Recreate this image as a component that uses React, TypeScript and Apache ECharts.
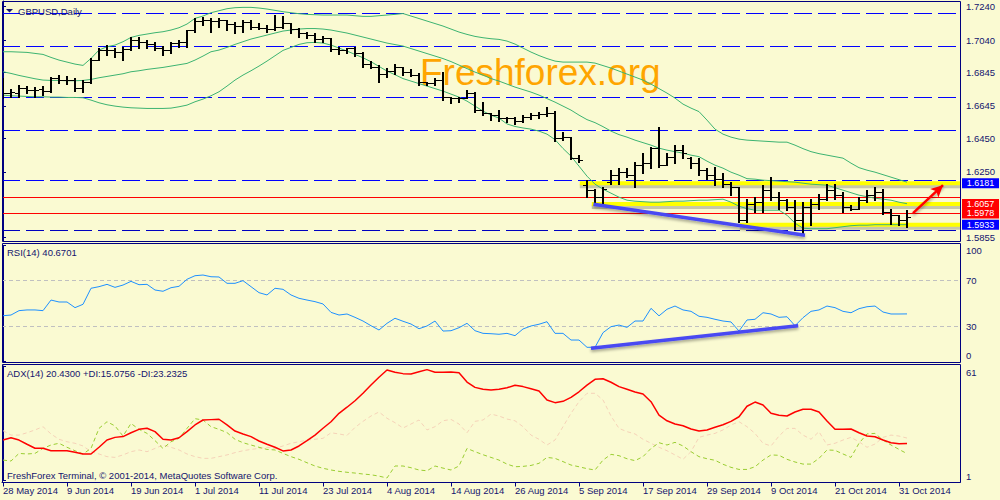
import React, { useEffect, useRef } from 'react';
import * as echarts from 'echarts';

// ---------- data ----------
const tickIdx = [0, 8, 16, 24, 32, 40, 48, 56, 64, 72, 80, 88, 96, 104, 112];
const tickLabels = ['28 May 2014', '9 Jun 2014', '19 Jun 2014', '1 Jul 2014', '11 Jul 2014', '23 Jul 2014', '4 Aug 2014', '14 Aug 2014', '26 Aug 2014', '5 Sep 2014', '17 Sep 2014', '29 Sep 2014', '9 Oct 2014', '21 Oct 2014', '31 Oct 2014'];
const priceTicks = [1.5855, 1.6250, 1.6450, 1.6645, 1.6845, 1.7040, 1.7240];
const rsiTicks = [0, 30, 70, 100];
const adxTicks = [1, 61];

const open = [1.6728,1.6725,1.6722,1.6752,1.6740,1.6746,1.6734,1.6812,1.6800,1.6798,
1.6752,1.6788,1.6920,1.6980,1.6978,1.6968,1.6986,1.7040,1.7028,1.7016,
1.6992,1.6980,1.7022,1.7028,1.7100,1.7154,1.7160,1.7154,1.7160,1.7136,
1.7124,1.7148,1.7120,1.7110,1.7105,1.7120,1.7140,1.7105,1.7085,1.7070,
1.7045,1.7050,1.6985,1.6980,1.6990,1.6960,1.6895,1.6880,1.6835,1.6855,
1.6880,1.6850,1.6830,1.6790,1.6780,1.6800,1.6700,1.6690,1.6690,1.6720,
1.6620,1.6600,1.6590,1.6570,1.6570,1.6555,1.6580,1.6590,1.6595,1.6600,
1.6450,1.6460,1.6330,1.6170,1.6140,1.6100,1.6190,1.6230,1.6250,1.6230,
1.6290,1.6300,1.6390,1.6290,1.6340,1.6380,1.6335,1.6300,1.6260,1.6230,
1.6210,1.6180,1.6160,1.5960,1.6060,1.6070,1.6140,1.6100,1.6080,1.6040,
1.5960,1.6040,1.6060,1.6090,1.6140,1.6110,1.6040,1.6030,1.6080,1.6110,
1.6130,1.6010,1.5990,1.5960];
const high = [1.6812,1.6746,1.6770,1.6764,1.6758,1.6764,1.6818,1.6830,1.6824,1.6812,
1.6800,1.6932,1.6992,1.7010,1.6992,1.6998,1.7058,1.7058,1.7040,1.7028,
1.7004,1.7028,1.7040,1.7100,1.7172,1.7178,1.7172,1.7172,1.7160,1.7148,
1.7160,1.7160,1.7140,1.7130,1.7190,1.7185,1.7145,1.7110,1.7090,1.7080,
1.7065,1.7055,1.7000,1.6995,1.7000,1.6970,1.6915,1.6890,1.6875,1.6895,
1.6880,1.6866,1.6842,1.6790,1.6812,1.6850,1.6700,1.6700,1.6740,1.6730,
1.6670,1.6602,1.6620,1.6580,1.6580,1.6590,1.6600,1.6610,1.6640,1.6615,
1.6490,1.6460,1.6350,1.6200,1.6150,1.6160,1.6260,1.6270,1.6270,1.6310,
1.6360,1.6400,1.6520,1.6360,1.6410,1.6410,1.6340,1.6330,1.6270,1.6280,
1.6240,1.6190,1.6160,1.6090,1.6100,1.6170,1.6220,1.6130,1.6090,1.6080,
1.6070,1.6090,1.6120,1.6180,1.6180,1.6130,1.6050,1.6100,1.6140,1.6160,
1.6150,1.6030,1.5990,1.6020];
const low = [1.6692,1.6698,1.6698,1.6722,1.6698,1.6710,1.6728,1.6782,1.6776,1.6734,
1.6728,1.6782,1.6920,1.6950,1.6938,1.6920,1.6980,1.6992,1.6992,1.6980,
1.6950,1.6962,1.6998,1.6998,1.7088,1.7130,1.7088,1.7118,1.7100,1.7082,
1.7088,1.7105,1.7105,1.7090,1.7100,1.7110,1.7080,1.7060,1.7050,1.7030,
1.7030,1.6975,1.6955,1.6960,1.6945,1.6880,1.6870,1.6790,1.6820,1.6835,
1.6830,1.6824,1.6770,1.6770,1.6770,1.6680,1.6662,1.6670,1.6690,1.6610,
1.6590,1.6560,1.6556,1.6550,1.6535,1.6550,1.6565,1.6570,1.6585,1.6435,
1.6440,1.6324,1.6310,1.6100,1.6060,1.6050,1.6180,1.6180,1.6220,1.6160,
1.6240,1.6270,1.6280,1.6290,1.6300,1.6330,1.6270,1.6230,1.6210,1.6170,
1.6160,1.6110,1.5950,1.5950,1.6010,1.6010,1.6080,1.6030,1.6020,1.5900,
1.5870,1.5930,1.6030,1.6080,1.6090,1.6010,1.6020,1.6030,1.6070,1.6080,
1.6000,1.5940,1.5930,1.5920];
const close = [1.6722,1.6730,1.6752,1.6740,1.6738,1.6734,1.6812,1.6800,1.6798,1.6752,
1.6788,1.6920,1.6980,1.6978,1.6968,1.6986,1.7040,1.7028,1.7016,1.6992,
1.6980,1.7022,1.7028,1.7100,1.7154,1.7160,1.7154,1.7160,1.7136,1.7124,
1.7148,1.7120,1.7110,1.7105,1.7120,1.7140,1.7105,1.7085,1.7070,1.7045,
1.7050,1.6985,1.6980,1.6990,1.6960,1.6895,1.6880,1.6835,1.6855,1.6880,
1.6850,1.6830,1.6790,1.6780,1.6800,1.6700,1.6690,1.6690,1.6720,1.6620,
1.6600,1.6590,1.6570,1.6570,1.6555,1.6580,1.6590,1.6595,1.6600,1.6450,
1.6460,1.6330,1.6320,1.6140,1.6100,1.6150,1.6230,1.6250,1.6230,1.6290,
1.6300,1.6390,1.6290,1.6340,1.6380,1.6360,1.6300,1.6260,1.6230,1.6210,
1.6180,1.6160,1.5960,1.6060,1.6070,1.6140,1.6100,1.6080,1.6040,1.5960,
1.6040,1.6060,1.6090,1.6140,1.6110,1.6040,1.6030,1.6080,1.6110,1.6130,
1.6010,1.5990,1.5960,1.5978];

const bbUpper = [1.6970,1.6970,1.6968,1.6966,1.6960,1.6954,1.6936,1.6920,1.6908,1.6896,
1.6888,1.6930,1.6980,1.7000,1.7010,1.7030,1.7056,1.7068,1.7076,1.7084,
1.7090,1.7100,1.7114,1.7136,1.7170,1.7184,1.7204,1.7216,1.7228,1.7234,
1.7236,1.7236,1.7232,1.7226,1.7218,1.7210,1.7204,1.7198,1.7194,1.7192,
1.7190,1.7190,1.7190,1.7190,1.7186,1.7182,1.7182,1.7186,1.7190,1.7194,
1.7199,1.7184,1.7169,1.7154,1.7139,1.7124,1.7106,1.7088,1.7074,1.7062,
1.7054,1.7048,1.7044,1.7034,1.7016,1.6992,1.6968,1.6947,1.6929,1.6914,
1.6908,1.6908,1.6908,1.6908,1.6902,1.6887,1.6872,1.6854,1.6836,1.6818,
1.6800,1.6776,1.6749,1.6722,1.6692,1.6656,1.6632,1.6611,1.6560,1.6506,
1.6476,1.6458,1.6446,1.6440,1.6437,1.6434,1.6431,1.6428,1.6428,1.6410,
1.6389,1.6371,1.6359,1.6350,1.6341,1.6332,1.6302,1.6275,1.6260,1.6248,
1.6233,1.6218,1.6203,1.6188];
const bbMiddle = [1.6850,1.6840,1.6828,1.6818,1.6808,1.6800,1.6798,1.6798,1.6796,1.6796,
1.6798,1.6804,1.6814,1.6822,1.6830,1.6838,1.6850,1.6856,1.6864,1.6870,
1.6876,1.6884,1.6892,1.6900,1.6920,1.6944,1.6970,1.6980,1.6996,1.7014,
1.7030,1.7046,1.7058,1.7070,1.7082,1.7094,1.7100,1.7106,1.7109,1.7109,
1.7106,1.7100,1.7091,1.7082,1.7070,1.7058,1.7046,1.7034,1.7022,1.7013,
1.7004,1.6989,1.6974,1.6959,1.6944,1.6929,1.6911,1.6890,1.6869,1.6848,
1.6830,1.6809,1.6794,1.6776,1.6758,1.6743,1.6728,1.6710,1.6689,1.6668,
1.6644,1.6620,1.6590,1.6563,1.6545,1.6521,1.6494,1.6473,1.6458,1.6440,
1.6425,1.6410,1.6392,1.6380,1.6371,1.6362,1.6350,1.6341,1.6314,1.6290,
1.6272,1.6248,1.6230,1.6209,1.6206,1.6200,1.6197,1.6194,1.6191,1.6188,
1.6182,1.6176,1.6173,1.6170,1.6155,1.6140,1.6125,1.6110,1.6101,1.6092,
1.6086,1.6080,1.6068,1.6059];
const bbLower = [1.6710,1.6706,1.6704,1.6702,1.6700,1.6700,1.6698,1.6698,1.6696,1.6696,
1.6694,1.6680,1.6664,1.6652,1.6644,1.6638,1.6634,1.6632,1.6630,1.6630,
1.6630,1.6632,1.6640,1.6650,1.6670,1.6686,1.6706,1.6730,1.6764,1.6800,
1.6830,1.6856,1.6884,1.6914,1.6946,1.6978,1.6996,1.7014,1.7024,1.7026,
1.7022,1.7010,1.6992,1.6974,1.6954,1.6934,1.6910,1.6882,1.6854,1.6832,
1.6809,1.6794,1.6779,1.6764,1.6749,1.6734,1.6716,1.6698,1.6674,1.6644,
1.6614,1.6590,1.6572,1.6537,1.6522,1.6513,1.6506,1.6494,1.6476,1.6443,
1.6390,1.6344,1.6284,1.6224,1.6176,1.6146,1.6122,1.6098,1.6080,1.6074,
1.6071,1.6068,1.6068,1.6071,1.6074,1.6074,1.6077,1.6080,1.6080,1.6083,
1.6086,1.6068,1.6044,1.6029,1.6020,1.6020,1.6020,1.6020,1.5990,1.5942,
1.5912,1.5909,1.5909,1.5909,1.5915,1.5921,1.5927,1.5930,1.5930,1.5933,
1.5933,1.5933,1.5933,1.5933];

const rsi = [39.1,39.7,43.5,44.1,44.1,43.5,52.7,51.0,51.0,46.1,
49.0,62.9,64.3,66.3,63.7,65.7,68.9,66.0,66.3,61.4,
60.3,63.4,64.6,70.7,73.8,74.4,72.9,72.7,67.2,67.2,
69.5,64.3,59.1,57.1,62.9,62.0,57.1,54.2,52.7,51.3,
49.3,42.0,39.7,40.6,37.7,34.5,30.4,26.7,32.5,36.9,
34.3,31.9,27.8,30.2,34.5,25.8,26.1,28.7,32.5,26.1,
23.8,23.5,23.0,23.8,21.8,27.6,30.2,31.7,33.9,23.8,
23.8,18.0,18.0,11.7,11.7,24.4,29.6,31.0,29.0,34.5,
34.5,45.5,39.0,44.7,47.5,44.1,42.9,38.6,37.7,36.0,
34.5,33.7,25.8,35.4,36.0,41.7,40.6,37.7,38.2,30.4,
37.4,42.9,44.1,47.5,46.1,42.9,41.7,45.2,46.9,47.5,
42.3,40.6,40.6,40.6701];

const adx = [22.2,23.4,22.2,20.0,17.9,17.9,16.6,16.6,16.6,15.8,
14.9,14.9,18.4,22.2,23.6,24.0,26.0,27.8,28.4,26.6,
22.6,22.2,23.4,26.6,30.1,32.7,32.9,33.1,30.1,26.9,
25.4,24.0,21.7,20.0,18.4,16.5,17.0,19.1,21.9,24.8,
28.4,31.8,36.2,39.4,42.8,46.7,51.0,55.1,58.9,57.7,
57.0,56.8,58.0,59.1,57.7,57.7,57.9,57.5,52.6,49.8,
48.8,48.4,48.8,49.6,50.9,50.2,49.1,47.9,43.2,41.8,
42.5,44.6,47.5,51.0,54.0,54.3,52.5,50.2,48.8,47.4,
46.3,42.3,35.3,32.3,30.6,29.7,28.0,26.9,27.5,28.9,
30.2,32.0,34.4,39.9,42.1,40.6,36.2,35.2,34.8,36.9,
38.3,38.3,36.9,32.2,27.8,27.8,28.0,26.0,24.3,23.9,
22.2,20.8,20.3,20.43];
const plusDI = [11.7,11.2,15.2,14.9,15.2,17.8,19.6,20.5,18.4,16.6,
14.9,17.8,28.3,31.8,29.6,24.3,30.9,27.8,25.7,21.9,
17.8,21.3,23.1,28.3,33.4,32.7,29.2,27.8,26.1,22.6,
20.8,19.6,18.4,17.3,17.0,15.2,13.5,12.1,10.3,8.6,
7.4,6.5,5.8,5.3,4.9,4.4,4.0,3.3,2.3,8.6,
8.6,7.7,6.5,6.1,8.6,7.5,6.5,8.6,17.8,16.1,
14.5,13.1,11.7,9.6,8.2,8.4,8.9,10.0,13.1,12.6,
10.9,9.1,8.2,7.2,6.5,11.7,14.7,14.0,12.4,11.4,
13.5,17.8,20.8,19.6,21.0,19.1,16.1,13.5,12.4,11.6,
9.5,7.9,6.8,6.8,8.2,11.7,14.4,14.2,12.1,10.7,
9.6,9.6,12.6,17.0,16.8,14.9,13.1,20.5,25.4,25.7,
22.2,19.6,17.3,15.0756];
const minusDI = [27.1,24.8,24.8,26.0,27.5,29.2,25.4,22.6,21.3,20.5,
19.1,16.1,14.9,13.5,13.1,14.4,16.1,17.0,16.1,17.8,
19.6,18.4,17.0,14.9,13.5,12.6,12.6,13.5,14.4,15.6,
16.6,17.3,17.8,18.4,17.8,19.1,20.5,21.3,22.2,22.6,
23.1,26.0,25.4,24.6,28.8,32.0,34.8,36.9,33.6,31.3,
28.5,30.6,32.7,27.5,29.2,32.3,33.0,30.6,26.0,32.0,
32.7,35.8,34.8,33.2,32.3,29.2,24.8,22.6,19.6,22.2,
29.2,36.2,42.3,46.7,46.7,43.2,34.8,28.3,26.6,25.4,
22.6,20.5,18.4,16.6,14.4,12.1,16.1,23.6,24.8,25.7,
27.5,30.1,31.8,29.2,25.7,20.5,19.1,24.3,28.3,28.3,
24.8,22.6,26.6,19.6,20.5,22.2,23.6,21.3,18.4,20.1,
23.6,24.8,24.3,23.2325];

// horizontal levels drawn on the price chart
const blueLevels = [1.7178, 1.6991, 1.6691, 1.6517, 1.6181];
const redLevels = [1.6057, 1.6017, 1.5978];
const supportLevel = 1.5933;
const highlightLevels = [1.6181, 1.6057, 1.5933];
const highlightFrom = [72.1, 73.6, 92.1];
const boxedPrices = [1.6181, 1.6057, 1.5978, 1.5933];
const rsiLevels = [70, 30];
// drawn annotations: [barIndex, value]
const priceTrend = [[73.8, 1.6056], [100.25, 1.5870]];
const rsiTrend = [[73.5, 10.8], [99.4, 30.4]];
const arrowPts = [[113.75, 1.6002], [117.5, 1.6170]];

// ---------- styles ----------
const FONT = "'Liberation Sans', Arial, sans-serif";
const NAVY = '#000080';
const TXT = '#14146e';
const BG = '#FAFAD2';
const XMIN = -0.125;
const XMAX = 119.625;
const YMIN = 1.58323;
const YMAX = 1.72742;
const MAIN_H = 240.5;
// price offset equal to ~3px on the main scale, used for the soft drop shadow of the highlight bands
const SHADOW_DY = ((YMAX - YMIN) / MAIN_H) * 3;

const pairs = (arr: number[]) => arr.map((v, i) => [i, v]);

function renderBar(params: any, api: any) {
  const i = api.value(0);
  const pO = api.coord([i, api.value(1)]);
  const pH = api.coord([i, api.value(2)]);
  const pL = api.coord([i, api.value(3)]);
  const pC = api.coord([i, api.value(4)]);
  const x = Math.round(pO[0]);
  const yO = Math.round(pO[1]) + 0.5;
  const yC = Math.round(pC[1]) + 0.5;
  const yH = Math.round(pH[1]);
  const yL = Math.round(pL[1]) + 1;
  const stroke = '#000000';
  return {
    type: 'group',
    children: [
      { type: 'line', shape: { x1: x, y1: yH, x2: x, y2: yL }, style: { stroke, lineWidth: 2 } },
      { type: 'line', shape: { x1: x - 4, y1: yO, x2: x, y2: yO }, style: { stroke, lineWidth: 1 } },
      { type: 'line', shape: { x1: x, y1: yC, x2: x + 4, y2: yC }, style: { stroke, lineWidth: 1 } },
    ],
  };
}

function buildOption(): any {
  const xBase = { type: 'value', min: XMIN, max: XMAX, splitLine: { show: false } };
  const labelFont = { color: TXT, fontSize: 9.5, fontFamily: FONT };
  const yCommon = {
    type: 'value', position: 'right', splitLine: { show: false },
    axisLine: { show: true, lineStyle: { color: NAVY } },
  };
  const boxColors = ['#0000FF', '#FF0000', '#FF0000', '#0000FF'];
  const boxShift = [0, 0, -3.7, 0];
  const trendStyle = { color: '#4848F2', width: 3.5, type: 'solid', shadowColor: 'rgba(0,0,0,0.35)', shadowBlur: 3, shadowOffsetY: 2 };

  const highlightSeries: any[] = [];
  highlightLevels.forEach((v, k) => {
    highlightSeries.push({
      type: 'line', xAxisIndex: 0, yAxisIndex: 0, silent: true, z: 1, showSymbol: false, clip: true,
      data: [[highlightFrom[k], v - SHADOW_DY], [XMAX, v - SHADOW_DY]],
      lineStyle: { color: 'rgba(70,70,70,0.28)', width: 4 },
    });
    highlightSeries.push({
      type: 'line', xAxisIndex: 0, yAxisIndex: 0, silent: true, z: 1, showSymbol: false, clip: true,
      data: [[highlightFrom[k], v], [XMAX, v]],
      lineStyle: { color: '#FFFF00', width: 4 },
    });
  });

  return {
    animation: false,
    backgroundColor: BG,
    grid: [
      { left: 2, top: 1, width: 958, height: MAIN_H },
      { left: 2, top: 245.5, width: 958, height: 115.3 },
      { left: 2, top: 366, width: 958, height: 114.5 },
    ],
    xAxis: [
      { ...xBase, gridIndex: 0, show: false },
      { ...xBase, gridIndex: 1, show: false },
      {
        ...xBase, gridIndex: 2, position: 'bottom', offset: 2,
        axisLine: { show: true, lineStyle: { color: NAVY } },
        axisTick: { show: true, customValues: tickIdx, length: 4, lineStyle: { color: NAVY } },
        axisLabel: {
          customValues: tickIdx, align: 'left', margin: 3, ...labelFont,
          formatter: (v: number) => tickLabels[tickIdx.indexOf(Math.round(v))] ?? '',
        },
      },
    ],
    yAxis: [
      {
        ...yCommon, gridIndex: 0, min: YMIN, max: YMAX,
        axisTick: { show: true, customValues: priceTicks, length: 3, lineStyle: { color: NAVY } },
        axisLabel: { customValues: priceTicks, margin: 6, ...labelFont, formatter: (v: number) => v.toFixed(4) },
      },
      {
        ...yCommon, gridIndex: 1, min: 0, max: 100,
        axisTick: { show: true, customValues: rsiTicks, length: 3, lineStyle: { color: NAVY } },
        axisLabel: {
          customValues: rsiTicks, margin: 6, ...labelFont,
          formatter: (v: number) => (v === 100 ? '{t|100}' : v === 0 ? '{b|0}' : '{m|' + v + '}'),
          rich: {
            t: { ...labelFont, padding: [10.4, 0, 0, 0] },
            b: { ...labelFont, padding: [0, 0, 10.2, 0] },
            m: { ...labelFont },
          },
        },
      },
      {
        ...yCommon, gridIndex: 2, min: 1, max: 61,
        axisTick: { show: true, customValues: adxTicks, length: 3, lineStyle: { color: NAVY } },
        axisLabel: {
          customValues: adxTicks, margin: 6, ...labelFont,
          formatter: (v: number) => (v === 61 ? '{t|61}' : '{b|' + v + '}'),
          rich: {
            t: { ...labelFont, padding: [12, 0, 0, 0] },
            b: { ...labelFont, padding: [0, 0, 9, 0] },
          },
        },
      },
    ],
    series: [
      // yellow highlighted levels with a soft shadow underneath
      ...highlightSeries,
      // horizontal levels
      {
        type: 'line', xAxisIndex: 0, yAxisIndex: 0, data: [], silent: true,
        markLine: {
          silent: true, z: 2, symbol: ['none', 'none'], label: { show: false },
          data: [
            ...blueLevels.map((v) => ({ yAxis: v, lineStyle: { color: '#0000FF', type: [18, 6], width: 1 } })),
            ...redLevels.map((v) => ({ yAxis: v, lineStyle: { color: '#FF0000', type: 'solid', width: 1 } })),
            { yAxis: supportLevel, lineStyle: { color: '#0000C0', type: [18, 6], width: 1 } },
          ],
        },
      },
      // Bollinger bands
      ...[bbUpper, bbMiddle, bbLower].map((arr) => ({
        type: 'line', xAxisIndex: 0, yAxisIndex: 0, data: pairs(arr), showSymbol: false, silent: true, z: 3,
        lineStyle: { color: '#3CB371', width: 1 },
      })),
      // OHLC bars
      {
        type: 'custom', xAxisIndex: 0, yAxisIndex: 0, z: 4, silent: true, clip: true,
        data: open.map((o, i) => [i, o, high[i], low[i], close[i]]),
        encode: { x: 0, y: [1, 2, 3, 4] },
        renderItem: renderBar,
      },
      // trend line + arrow
      {
        type: 'line', xAxisIndex: 0, yAxisIndex: 0, data: [], silent: true,
        markLine: {
          silent: true, z: 6, symbol: ['none', 'none'], label: { show: false },
          data: [
            [{ coord: priceTrend[0], lineStyle: trendStyle }, { coord: priceTrend[1] }],
            [
              { coord: arrowPts[0], symbol: 'none', lineStyle: { color: '#FF0000', width: 2.5, type: 'solid', curveness: 0.2, shadowColor: 'rgba(0,0,0,0.35)', shadowBlur: 3, shadowOffsetY: 2 } },
              { coord: arrowPts[1], symbol: 'arrow', symbolSize: [9, 12] },
            ],
          ],
        },
      },
      // price boxes on the right scale
      {
        type: 'line', xAxisIndex: 0, yAxisIndex: 0, data: [], silent: true,
        markPoint: {
          silent: true, z: 8,
          data: boxedPrices.map((v, k) => ({
            coord: [XMAX, v], symbol: 'rect', symbolSize: [37, 10], symbolOffset: [20.5, boxShift[k]],
            itemStyle: { color: boxColors[k] },
            label: { show: true, position: 'inside', formatter: v.toFixed(4), color: '#FFFFFF', fontSize: 9, fontFamily: FONT, lineHeight: 9 },
          })),
        },
      },
      // RSI
      {
        type: 'line', xAxisIndex: 1, yAxisIndex: 1, data: pairs(rsi), showSymbol: false, silent: true, z: 3,
        lineStyle: { color: '#1E90FF', width: 1 },
        markLine: {
          silent: true, z: 2, symbol: ['none', 'none'], label: { show: false },
          data: rsiLevels.map((v) => ({ yAxis: v, lineStyle: { color: '#C0C0C0', type: [4, 3], width: 1 } })),
        },
      },
      {
        type: 'line', xAxisIndex: 1, yAxisIndex: 1, data: [], silent: true,
        markLine: {
          silent: true, z: 6, symbol: ['none', 'none'], label: { show: false },
          data: [[{ coord: rsiTrend[0], lineStyle: trendStyle }, { coord: rsiTrend[1] }]],
        },
      },
      // ADX
      {
        type: 'line', xAxisIndex: 2, yAxisIndex: 2, data: pairs(minusDI), showSymbol: false, silent: true, z: 2,
        lineStyle: { color: '#F5D2B8', width: 1, type: [4, 3] },
      },
      {
        type: 'line', xAxisIndex: 2, yAxisIndex: 2, data: pairs(plusDI), showSymbol: false, silent: true, z: 3,
        lineStyle: { color: '#9ACD32', width: 1, type: [4, 3] },
      },
      {
        type: 'line', xAxisIndex: 2, yAxisIndex: 2, data: pairs(adx), showSymbol: false, silent: true, z: 4,
        lineStyle: { color: '#FF0000', width: 1.5 },
      },
    ],
    graphic: [
      {
        type: 'text', x: 420, y: 72, z: 0, silent: true,
        style: { text: 'Freshforex.org', fill: '#FFA500', fontSize: 37, fontFamily: FONT, verticalAlign: 'middle' },
      },
      { type: 'rect', z: 100, silent: true, shape: { x: 2.5, y: 1.5, width: 958, height: 240 }, style: { fill: 'none', stroke: NAVY, lineWidth: 1 } },
      { type: 'rect', z: 100, silent: true, shape: { x: 2.5, y: 243.5, width: 958, height: 119 }, style: { fill: 'none', stroke: NAVY, lineWidth: 1 } },
      { type: 'rect', z: 100, silent: true, shape: { x: 2.5, y: 364.5, width: 958, height: 118 }, style: { fill: 'none', stroke: NAVY, lineWidth: 1 } },
      { type: 'polygon', z: 100, silent: true, shape: { points: [[6, 9], [13, 9], [9.5, 12.5]] }, style: { fill: TXT } },
      { type: 'text', x: 18, y: 11, z: 100, silent: true, style: { text: 'GBPUSD,Daily', fill: TXT, fontSize: 9.5, fontFamily: FONT, verticalAlign: 'middle' } },
      { type: 'text', x: 7, y: 252.7, z: 100, silent: true, style: { text: 'RSI(14) 40.6701', fill: TXT, fontSize: 9.5, fontFamily: FONT, verticalAlign: 'middle' } },
      { type: 'text', x: 7, y: 373.3, z: 100, silent: true, style: { text: 'ADX(14) 20.4300 +DI:15.0756 -DI:23.2325', fill: TXT, fontSize: 9.5, fontFamily: FONT, verticalAlign: 'middle' } },
      { type: 'text', x: 7, y: 475, z: 100, silent: true, style: { text: 'FreshForex Terminal, © 2001-2014, MetaQuotes Software Corp.', fill: TXT, fontSize: 9.5, fontFamily: FONT, verticalAlign: 'middle' } },
    ],
  };
}

export default function App() {
  const ref = useRef<HTMLDivElement>(null);
  useEffect(() => {
    if (!ref.current) return;
    const chart = echarts.init(ref.current, null, { renderer: 'svg' });
    chart.setOption(buildOption());
    return () => chart.dispose();
  }, []);
  return (
    <div
      ref={ref}
      style={{ position: 'fixed', left: 0, top: 0, width: 1000, height: 500, background: BG }}
    />
  );
}
